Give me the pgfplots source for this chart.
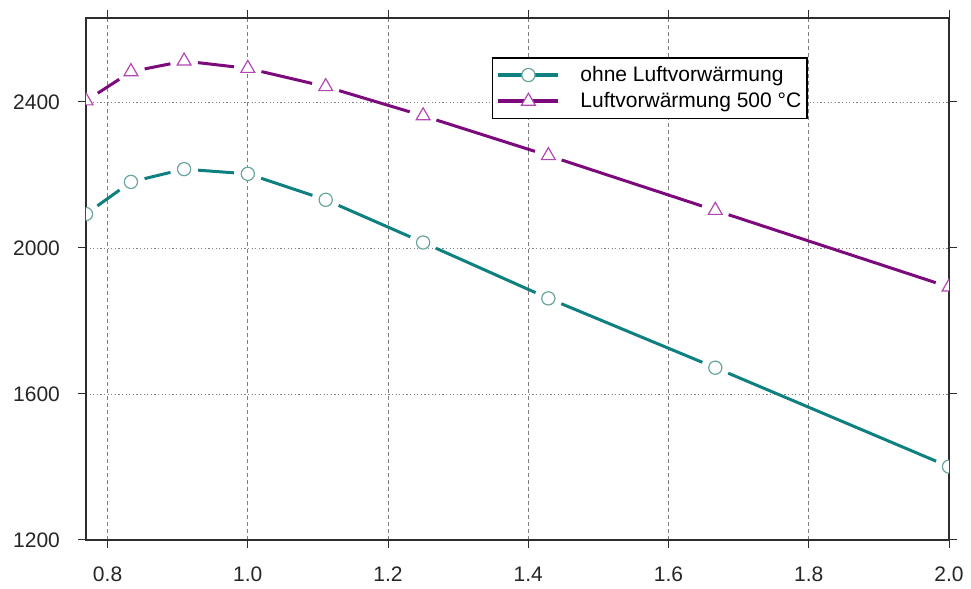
\documentclass[border=0pt]{standalone}
\usepackage{fontspec}
\setmainfont{Liberation Sans}
\usepackage{pgfplots}
\pgfplotsset{compat=1.18}
\definecolor{tealline}{RGB}{15,128,128}
\definecolor{tealmark}{RGB}{105,165,160}
\definecolor{purpline}{RGB}{125,10,125}
\definecolor{purpmark}{RGB}{180,70,180}
\definecolor{framec}{RGB}{45,45,45}
\newcommand\tseg[4]{\addplot[tealline, line width=1.5pt, shorten <=7pt, shorten >=7pt, forget plot] coordinates {(#1,#2) (#3,#4)};}
\newcommand\pseg[4]{\addplot[purpline, line width=1.5pt, shorten <=7pt, shorten >=7pt, forget plot] coordinates {(#1,#2) (#3,#4)};}
\begin{document}
\begin{tikzpicture}
\begin{axis}[
  scale only axis, width=431.5pt, height=261pt,
  xmin=0.7692, xmax=2.0, ymin=1200, ymax=2630,
  xtick={0.8,1,1.2,1.4,1.6,1.8,2},
  xticklabels={0.8,1.0,1.2,1.4,1.6,1.8,2.0},
  ytick={1200,1600,2000,2400},
  yticklabels={1200,1600,2000,2400},
  tick align=outside, tick pos=both, major tick length=4pt,
  every tick/.style={framec, line width=0.5pt},
  axis line style={framec, line width=0.8pt},
  xmajorgrids, ymajorgrids,
  x grid style={gray, line width=0.45pt, dash pattern=on 2pt off 1.5pt},
  y grid style={gray, line width=0.45pt, dash pattern=on 0.6pt off 1.2pt},
  ticklabel style={font=\fontsize{10.5}{12}\selectfont, text=black!85},
  xticklabel style={yshift=-6pt},
  yticklabel style={xshift=-5.5pt},
  legend style={at={(rel axis cs:0.470,0.925)}, anchor=north west, draw=black, line width=0.8pt,
    font=\fontsize{10.5}{12.5}\selectfont, inner xsep=2pt, inner ysep=2pt, row sep=0pt,
    nodes={inner xsep=1pt},
    /tikz/every odd column/.append style={column sep=9pt}},
  legend cell align=left,
  legend image code/.code={\draw[mark repeat=2,mark phase=2,#1] plot coordinates {(0pt,0pt) (15pt,0pt) (30pt,0pt)};},
]
\addlegendimage{tealline, line width=2pt, mark=*, mark size=3.3pt, mark options={draw=tealmark, fill=white, line width=0.6pt}}
\addlegendentry{ohne Luftvorwärmung}
\addlegendimage{purpline, line width=2pt, mark=triangle*, mark size=4pt, mark options={draw=purpmark, fill=white, line width=0.6pt}}
\addlegendentry{Luftvorwärmung 500 °C}

% ohne Luftvorwaermung
\tseg{0.7692}{2093}{0.8333}{2181}
\tseg{0.8333}{2181}{0.9091}{2216}
\tseg{0.9091}{2216}{1.0}{2203}
\tseg{1.0}{2203}{1.1111}{2132}
\tseg{1.1111}{2132}{1.25}{2015}
\tseg{1.25}{2015}{1.4286}{1862}
\tseg{1.4286}{1862}{1.6667}{1672}
\tseg{1.6667}{1672}{2.0}{1401}
% Luftvorwaermung 500 C
\pseg{0.7692}{2403}{0.8333}{2483}
\pseg{0.8333}{2483}{0.9091}{2512}
\pseg{0.9091}{2512}{1.0}{2492}
\pseg{1.0}{2492}{1.1111}{2442}
\pseg{1.1111}{2442}{1.25}{2362}
\pseg{1.25}{2362}{1.4286}{2253}
\pseg{1.4286}{2253}{1.6667}{2103}
\pseg{1.6667}{2103}{2.0}{1893}

\addplot[only marks, mark=*, mark size=3.3pt, mark options={draw=tealmark, fill=white, line width=0.6pt}, forget plot, clip mode=individual] coordinates {
(0.7692,2093) (0.8333,2181) (0.9091,2216) (1.0,2203) (1.1111,2132) (1.25,2015) (1.4286,1862) (1.6667,1672) (2.0,1401)};
\addplot[only marks, mark=triangle*, mark size=4pt, mark options={draw=purpmark, fill=white, line width=0.6pt}, forget plot, clip mode=individual] coordinates {
(0.7692,2403) (0.8333,2483) (0.9091,2512) (1.0,2492) (1.1111,2442) (1.25,2362) (1.4286,2253) (1.6667,2103) (2.0,1893)};

\coordinate (SW) at (rel axis cs:0,0);
\coordinate (NE) at (rel axis cs:1,1);
\end{axis}
\pgfresetboundingbox
\path ([shift={(-43pt,-24.5pt)}]SW) rectangle ([shift={(11pt,9pt)}]NE);
\end{tikzpicture}
\end{document}
